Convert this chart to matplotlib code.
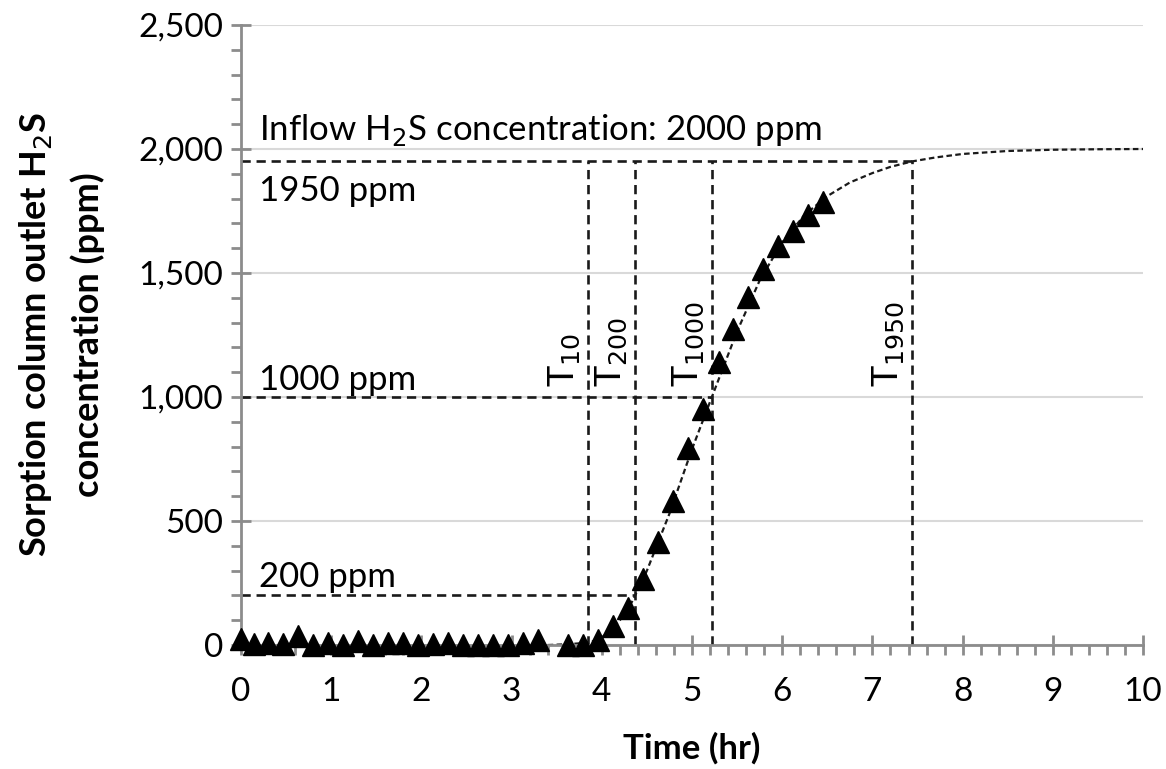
import matplotlib
matplotlib.use('Agg')
import matplotlib.pyplot as plt
from matplotlib.ticker import MultipleLocator, FuncFormatter

plt.rcParams['font.family'] = ['Lato', 'DejaVu Sans']

# measured outlet concentration (ppm) vs time (hr)
time_hr = [0.0, 0.14, 0.30, 0.47, 0.63, 0.80, 0.96, 1.13, 1.30, 1.46, 1.63,
           1.80, 1.96, 2.13, 2.29, 2.46, 2.63, 2.79, 2.96, 3.13, 3.29,
           3.63, 3.79, 3.96, 4.12, 4.29, 4.46, 4.62, 4.79, 4.96, 5.12,
           5.30, 5.45, 5.62, 5.79, 5.95, 6.12, 6.29, 6.45]
conc_ppm = [25, 5, 10, 5, 35, 0, 10, 0, 15, 0, 10,
            10, 0, 5, 10, 0, 0, 0, 0, 10, 20,
            0, 0, 20, 75, 150, 265, 415, 580, 795, 950,
            1140, 1275, 1405, 1515, 1610, 1670, 1735, 1785]

# fitted breakthrough curve
fit_t = [3.4, 3.6, 3.8, 3.9, 4.0, 4.1, 4.2, 4.3, 4.37, 4.5, 4.75, 5.0, 5.22,
         5.5, 5.75, 6.0, 6.25, 6.5, 6.75, 7.0, 7.2, 7.44, 7.7, 8.0, 8.5,
         9.0, 9.5, 10.0]
fit_c = [0, 3, 8, 15, 30, 60, 100, 150, 200, 300, 530, 790, 1000,
         1265, 1470, 1625, 1735, 1810, 1865, 1903, 1928, 1950, 1966, 1980,
         1992, 1997, 1999, 2000]

# breakthrough times (hr) and the concentration levels (ppm)
t_marks = [3.85, 4.37, 5.22, 7.44]
t_labels = ['T$_{10}$', 'T$_{200}$', 'T$_{1000}$', 'T$_{1950}$']
levels = [200, 1000, 1950]
level_ends = [4.37, 5.22, 7.44]
level_labels = ['200 ppm', '1000 ppm', '1950 ppm']

fig = plt.figure(figsize=(11.66, 7.69), dpi=100)
ax = fig.add_axes([0.2067, 0.1612, 0.9803 - 0.2067, 0.9675 - 0.1612])

ax.set_xlim(0, 10)
ax.set_ylim(0, 2500)

gray = '#8c8c8c'
ax.grid(axis='y', color='#d9d9d9', lw=1.5)
ax.set_axisbelow(True)
for s in ['top', 'right']:
    ax.spines[s].set_visible(False)
for s in ['left', 'bottom']:
    ax.spines[s].set_color(gray)
    ax.spines[s].set_linewidth(2)

ax.xaxis.set_major_locator(MultipleLocator(1))
ax.xaxis.set_minor_locator(MultipleLocator(0.2))
ax.yaxis.set_major_locator(MultipleLocator(500))
ax.yaxis.set_minor_locator(MultipleLocator(100))
ax.yaxis.set_major_formatter(FuncFormatter(lambda v, p: f'{int(v):,}'))
ax.tick_params(which='major', direction='inout', length=14, width=2,
               color=gray, labelsize=24)
ax.tick_params(axis='x', which='major', pad=16)
ax.tick_params(axis='y', which='major', pad=6)
ax.tick_params(which='minor', direction='out', length=7, width=2, color=gray)

# reference lines
dash = (0, (3.5, 2.2))
for t in t_marks:
    ax.plot([t, t], [0, 1950], ls=dash, color='#1a1a1a', lw=1.9)
for lv, te in zip(levels, level_ends):
    ax.plot([0, te], [lv, lv], ls=dash, color='#1a1a1a', lw=1.9)

# fitted curve
ax.plot(fit_t, fit_c, ls=(0, (2.5, 1.5)), color='#1a1a1a', lw=1.6)

# measurements
ax.plot(time_hr, conc_ppm, ls='none', marker='^', ms=16, color='black',
        clip_on=False, zorder=5)

ax.text(0.2, 2075, 'Inflow H$_2$S concentration: 2000 ppm', fontsize=25,
        va='center', ha='left')
y_pos = {200: 275, 1000: 1070, 1950: 1830}
for lv, lab in zip(levels, level_labels):
    ax.text(0.2, y_pos[lv], lab, fontsize=25, va='center', ha='left')

for t, lab in zip(t_marks, t_labels):
    ax.text(t - 0.07, 1040, lab, rotation=90, fontsize=26,
            ha='right', va='bottom')

ax.set_xlabel('Time (hr)', fontsize=25, fontweight='bold', labelpad=18)
ax.set_ylabel('Sorption column outlet H$_2$S\nconcentration (ppm)',
              fontsize=26, fontweight='bold', labelpad=24, linespacing=1.55)

fig.savefig('out.png', dpi=100)
